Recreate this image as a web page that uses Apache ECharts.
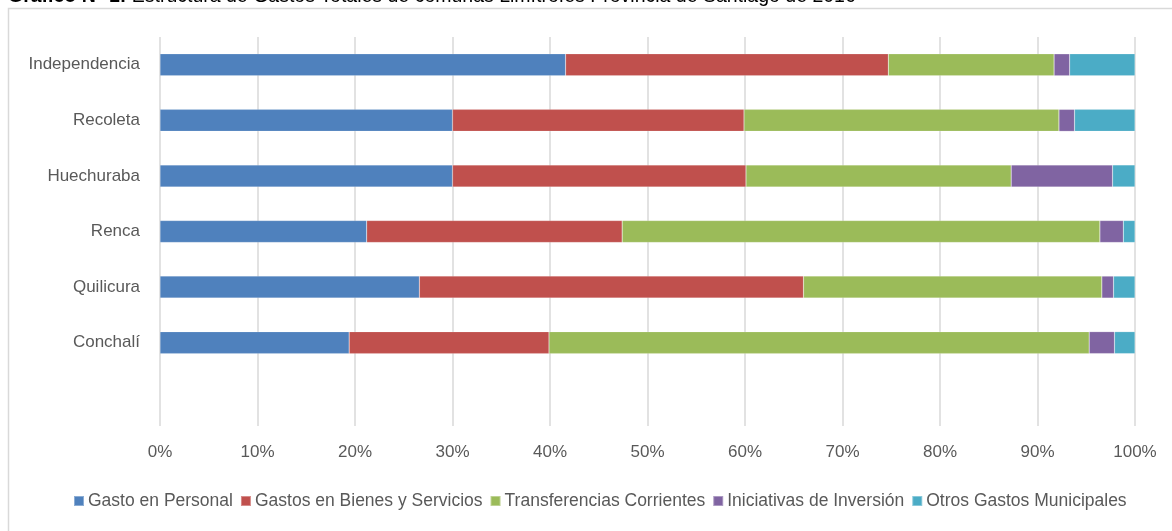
<!DOCTYPE html>
<html>
<head>
<meta charset="utf-8">
<script src="https://cdn.jsdelivr.net/npm/echarts@6/dist/echarts.min.js"></script>
<style>
  html, body { margin: 0; padding: 0; background: #ffffff; }
  #chart { width: 1172px; height: 531px; }
</style>
</head>
<body>
<div id="chart"></div>
<script>
// Comunas, top to bottom (the last blank slot leaves room under the bars)
const comunas = ['Independencia', 'Recoleta', 'Huechuraba', 'Renca', 'Quilicura', 'Conchalí', ''];

// Share of total spending, percent, per comuna (same order as above)
const gastoPersonal        = [41.6, 30.0, 30.0, 21.2, 26.6, 19.4];
const bienesServicios      = [33.1, 29.9, 30.1, 26.2, 39.4, 20.5];
const transferencias       = [17.0, 32.3, 27.2, 49.0, 30.6, 55.4];
const iniciativasInversion = [1.6, 1.6, 10.4, 2.4, 1.2, 2.6];
const otrosGastos          = [6.7, 6.2, 2.3, 1.2, 2.2, 2.1];

const seriesNames = [
  'Gasto en Personal',
  'Gastos en Bienes y Servicios',
  'Transferencias Corrientes',
  'Iniciativas de Inversión',
  'Otros Gastos Municipales'
];
const seriesData = [gastoPersonal, bienesServicios, transferencias, iniciativasInversion, otrosGastos];
const colors = ['#4F81BD', '#C0504D', '#9BBB59', '#8064A2', '#4BACC6'];

const xTicks = { min: 0, max: 100, interval: 10 };

const chart = echarts.init(document.getElementById('chart'), null, { renderer: 'canvas' });

const font = 'Liberation Sans, Arial, sans-serif';

chart.setOption({
  animation: false,
  color: colors,
  textStyle: { fontFamily: font },
  graphic: [
    {
      type: 'rect',
      shape: { x: 8.5, y: 8.5, width: 1200, height: 600 },
      style: { fill: 'none', stroke: '#d9d9d9', lineWidth: 1.5 },
      z: -1
    },
    {
      type: 'text',
      x: 8,
      y: 7,
      style: {
        text: '{b|Gráfico N° 1:} Estructura de Gastos Totales de comunas Limítrofes Provincia de Santiago de 2016',
        fontSize: 19.5,
        fontFamily: font,
        fill: '#000000',
        verticalAlign: 'bottom',
        rich: {
          b: { fontWeight: 'bold', fontSize: 19.5, fontFamily: font, fill: '#000000' }
        }
      }
    }
  ],
  legend: {
    bottom: 16,
    left: 68,
    icon: 'rect',
    itemWidth: 10,
    itemHeight: 10,
    itemGap: 7,
    textStyle: { fontSize: 17.5, color: '#595959', fontFamily: font, padding: [0, 0, 0, -1] },
    data: seriesNames
  },
  grid: { left: 160, right: 37, top: 37, bottom: 105, containLabel: false },
  xAxis: {
    type: 'value',
    min: xTicks.min,
    max: xTicks.max,
    interval: xTicks.interval,
    axisLine: { show: false },
    axisTick: { show: false },
    axisLabel: { formatter: '{value}%', fontSize: 17, color: '#595959', margin: 18, fontFamily: font },
    splitLine: { show: true, lineStyle: { color: '#d9d9d9', width: 1.5 } }
  },
  yAxis: {
    type: 'category',
    inverse: true,
    data: comunas,
    axisLine: { show: false },
    axisTick: { show: false },
    axisLabel: { fontSize: 17, color: '#595959', margin: 20, fontFamily: font }
  },
  series: seriesNames.map((name, i) => ({
    name: name,
    type: 'bar',
    stack: 'total',
    barWidth: 22,
    itemStyle: { color: colors[i], borderColor: 'rgba(255,255,255,0.35)', borderWidth: 0.5 },
    data: seriesData[i]
  }))
});
</script>
</body>
</html>
